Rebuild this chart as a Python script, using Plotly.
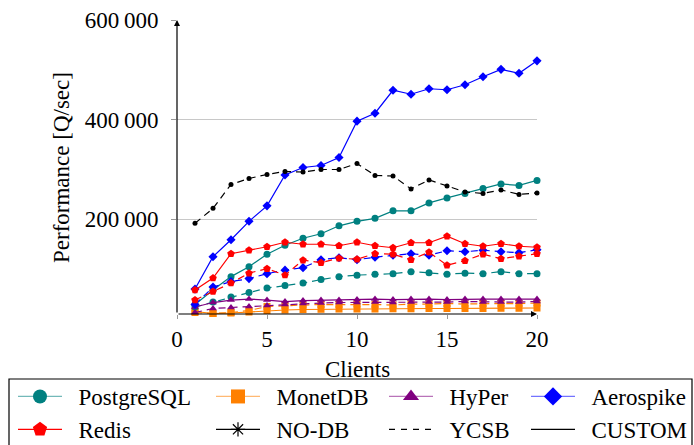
import plotly.graph_objects as go

clients = list(range(1, 21))

pg_custom = [29000, 58000, 85000, 105000, 130000, 148000, 162000, 171000, 187000, 196000,
             202000, 217000, 217000, 233000, 243000, 252000, 262000, 271000, 268000, 278000]
pg_ycsb = [24000, 34000, 44000, 53000, 62000, 67000, 72000, 79000, 85000, 88000,
           90000, 91000, 95000, 93000, 90000, 92000, 91000, 95000, 91000, 91000]
monet_custom = [15000, 11000, 12000, 14000, 17000, 18000, 19000, 19500, 20000, 20000,
                20000, 20500, 20500, 21000, 21000, 21000, 21000, 21500, 21500, 22000]
monet_ycsb = [13000, 11000, 13000, 17000, 25000, 27000, 28000, 29000, 29000, 30000,
              29000, 28000, 30000, 30000, 31000, 30000, 31000, 31000, 31000, 32000]
hyper_custom = [24000, 33000, 38000, 40000, 38000, 35000, 37000, 38000, 38000, 39000,
                40000, 39000, 40000, 40000, 39000, 40000, 40000, 40000, 40000, 40000]
hyper_ycsb = [13000, 21000, 23000, 25000, 27000, 29000, 31000, 32000, 33000, 33000,
              34000, 33000, 34000, 34000, 34000, 35000, 34000, 34000, 34000, 35000]
aero_custom = [60000, 125000, 159000, 196000, 227000, 289000, 304000, 308000, 324000, 397000,
               413000, 459000, 451000, 462000, 460000, 470000, 486000, 501000, 493000, 518000]
aero_ycsb = [29000, 64000, 75000, 81000, 91000, 98000, 103000, 119000, 123000, 119000,
             124000, 128000, 131000, 128000, 137000, 135000, 138000, 135000, 133000, 139000]
redis_custom = [58000, 82000, 131000, 138000, 145000, 154000, 150000, 150000, 147000, 154000,
                147000, 143000, 153000, 153000, 166000, 151000, 146000, 151000, 146000, 144000]
redis_ycsb = [38000, 55000, 72000, 92000, 101000, 88000, 118000, 113000, 122000, 120000,
              131000, 130000, 119000, 134000, 108000, 117000, 130000, 121000, 126000, 131000]
nodb_ycsb = [192000, 222000, 270000, 282000, 290000, 296000, 295000, 300000, 300000, 312000,
             288000, 287000, 261000, 279000, 267000, 255000, 252000, 259000, 250000, 253000]

y_ticks = [200000, 400000, 600000]
y_ticktext = ["200\u2009000", "400\u2009000", "600\u2009000"]
x_ticks = [0, 5, 10, 15, 20]

TEAL = "#008080"
ORANGE = "#ff8000"
PURPLE = "#800080"
BLUE = "#0000ff"
RED = "#ff0000"
BLACK = "#000000"
FONT = "Liberation Serif, Times New Roman, serif"
DASH = "7px,5px"

W, H = 694, 445
L, R, T, B = 177, 157, 20, 131
PW, PH = W - L - R, H - T - B
YMIN, YMAX = 10000, 600000


def px_x(p):
    return (p - L) / PW


def px_y(p):
    return (H - B - p) / PH


fig = go.Figure()

series = [
    (monet_ycsb, ORANGE, "square", 7, DASH),
    (monet_custom, ORANGE, "square", 7, "solid"),
    (pg_ycsb, TEAL, "circle", 7, DASH),
    (pg_custom, TEAL, "circle", 7, "solid"),
    (hyper_ycsb, PURPLE, "triangle-up", 7, DASH),
    (hyper_custom, PURPLE, "triangle-up", 7, "solid"),
    (aero_ycsb, BLUE, "diamond", 7, DASH),
    (aero_custom, BLUE, "diamond", 7, "solid"),
    (redis_ycsb, RED, "pentagon", 8, DASH),
    (redis_custom, RED, "pentagon", 8, "solid"),
    (nodb_ycsb, BLACK, "circle", 5, DASH),
]
for vals, col, sym, size, dash in series:
    fig.add_trace(go.Scatter(
        x=clients, y=vals, mode="lines+markers", showlegend=False,
        line=dict(color=col, width=1.2, dash=dash),
        marker=dict(color=col, symbol=sym, size=size, line=dict(width=0)),
        cliponaxis=False, hoverinfo="skip"))

legend_items = [
    ("PostgreSQL", "rgba(0,128,128,0.55)", TEAL, "circle", 14, "solid", "legend"),
    ("Redis", RED, RED, "pentagon", 15, "solid", "legend"),
    ("MonetDB", "rgba(255,128,0,0.55)", ORANGE, "square", 14, "solid", "legend2"),
    ("NO-DB", BLACK, BLACK, "asterisk-open", 12, "solid", "legend2"),
    ("HyPer", "rgba(128,0,128,0.55)", PURPLE, "triangle-up", 14, "solid", "legend3"),
    ("YCSB", BLACK, BLACK, None, 0, "6px,6px", "legend3"),
    ("Aerospike", "rgba(0,0,255,0.55)", BLUE, "diamond", 14, "solid", "legend4"),
    ("CUSTOM", BLACK, BLACK, None, 0, "solid", "legend4"),
]
for name, lcol, mcol, sym, size, dash, lg in legend_items:
    if sym is None:
        fig.add_trace(go.Scatter(
            x=[None], y=[None], mode="lines", name="\u00a0\u00a0" + name, legend=lg,
            line=dict(color=lcol, width=1.2, dash=dash)))
    else:
        fig.add_trace(go.Scatter(
            x=[None], y=[None], mode="lines+markers", name="\u00a0\u00a0" + name, legend=lg,
            line=dict(color=lcol, width=1.2, dash=dash),
            marker=dict(color=mcol, symbol=sym, size=size,
                        line=dict(color=mcol, width=1.2 if sym == "asterisk-open" else 0))))

TXT = dict(family=FONT, size=23, color="black")
leg_common = dict(font=TXT, bgcolor="rgba(0,0,0,0)",
                  borderwidth=0, orientation="v", itemwidth=44, xanchor="left",
                  yanchor="top", y=px_y(375), tracegroupgap=0, itemclick=False)
leg_x = [13, 211, 384, 526]

fig.update_layout(
    width=W, height=H,
    margin=dict(l=L, r=R, t=T, b=B, autoexpand=False),
    paper_bgcolor="white", plot_bgcolor="white",
    font=TXT,
    xaxis=dict(range=[0, 20], tickvals=x_ticks, ticks="outside", ticklen=4,
               tickcolor="#999999", tickwidth=1, showgrid=False, zeroline=False,
               showline=False, tickfont=TXT, ticklabelstandoff=0),
    yaxis=dict(range=[YMIN, YMAX], tickvals=y_ticks, ticktext=y_ticktext,
               ticks="outside", ticklen=5, tickcolor="#999999", tickwidth=1,
               showgrid=True, gridcolor="#c8c8c8", gridwidth=1, zeroline=False,
               showline=False, tickfont=TXT, ticklabelstandoff=8),
    legend=dict(leg_common, x=px_x(leg_x[0])),
    legend2=dict(leg_common, x=px_x(leg_x[1])),
    legend3=dict(leg_common, x=px_x(leg_x[2])),
    legend4=dict(leg_common, x=px_x(leg_x[3])),
)

# axis lines with arrow heads
fig.add_annotation(x=0, y=YMAX, ax=0, ay=YMIN, xref="x", yref="y", axref="x", ayref="y",
                   showarrow=True, arrowhead=2, arrowsize=1, arrowwidth=1.2,
                   arrowcolor="black", text="")
fig.add_annotation(x=20, y=YMIN, ax=0, ay=YMIN, xref="x", yref="y", axref="x", ayref="y",
                   showarrow=True, arrowhead=2, arrowsize=1, arrowwidth=1.2,
                   arrowcolor="black", text="")

fig.add_annotation(text="Clients", x=0.5, y=px_y(369), xref="paper", yref="paper",
                   showarrow=False, font=TXT, xanchor="center", yanchor="middle")
fig.add_annotation(text="Performance [Q/sec]", x=px_x(61), y=0.5, xref="paper",
                   yref="paper", showarrow=False, textangle=-90,
                   font=TXT, xanchor="center", yanchor="middle")

# legend frame
fig.add_shape(type="rect", xref="paper", yref="paper", x0=px_x(9), x1=px_x(692),
              y0=px_y(379), y1=px_y(450), line=dict(color="black", width=1.2),
              fillcolor="rgba(0,0,0,0)", layer="above")

fig.write_html("out.html")
